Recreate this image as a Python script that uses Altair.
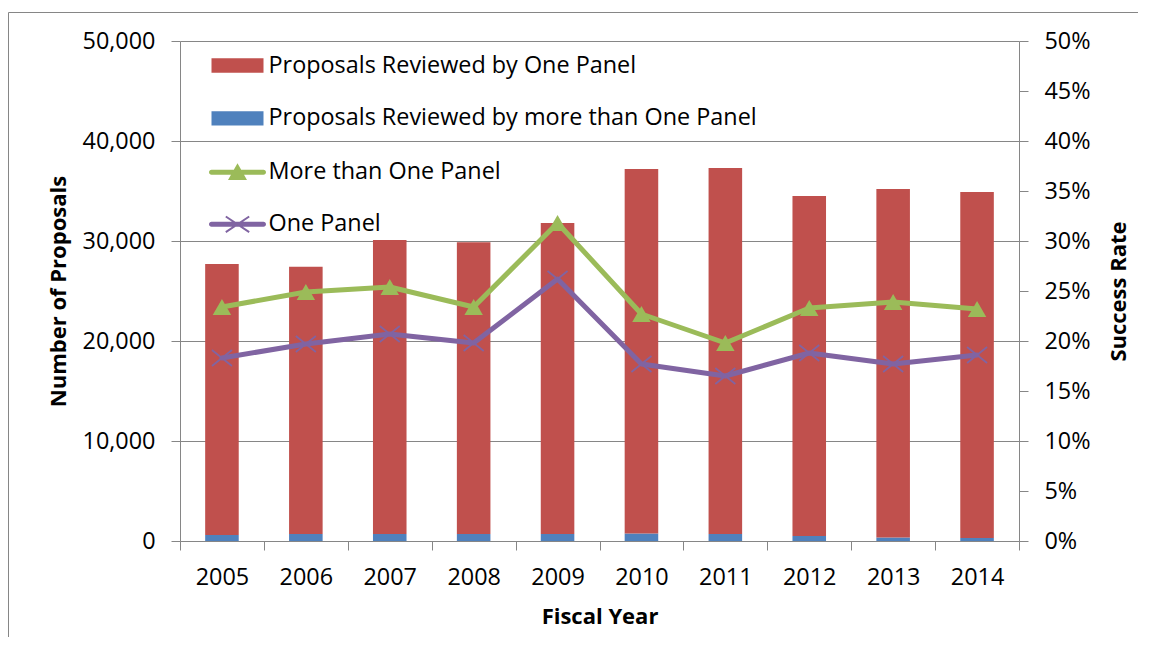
import altair as alt
import pandas as pd

# ---------------- data ----------------
years = ["2005", "2006", "2007", "2008", "2009", "2010", "2011", "2012", "2013", "2014"]
one_panel_count = [27100, 26730, 29400, 29170, 31100, 36450, 36600, 34000, 34850, 34600]
multi_panel_count = [600, 700, 700, 700, 700, 750, 700, 500, 350, 300]
rate_multi_panel = [23.4, 24.9, 25.4, 23.4, 31.8, 22.7, 19.8, 23.3, 23.9, 23.2]
rate_one_panel = [18.3, 19.7, 20.7, 19.8, 26.2, 17.7, 16.5, 18.8, 17.7, 18.6]
left_ticks = [0, 10000, 20000, 30000, 40000, 50000]
right_ticks = [0, 5, 10, 15, 20, 25, 30, 35, 40, 45, 50]

bar_names = ["Proposals Reviewed by One Panel", "Proposals Reviewed by more than One Panel"]
line_names = ["More than One Panel", "One Panel"]

RED, BLUE, GREEN, PURPLE = "#C0504D", "#4F81BD", "#9BBB59", "#8064A2"
GRAY = "#868686"
FONT = "Open Sans"

bar_rows = []
for i, y in enumerate(years):
    bar_rows.append({"year": y, "series": bar_names[1], "value": multi_panel_count[i], "ord": 0})
    bar_rows.append({"year": y, "series": bar_names[0], "value": one_panel_count[i], "ord": 1})
bar_df = pd.DataFrame(bar_rows)

line_rows = []
for i, y in enumerate(years):
    line_rows.append({"year": y, "series": line_names[0], "rate": rate_multi_panel[i]})
    line_rows.append({"year": y, "series": line_names[1], "rate": rate_one_panel[i]})
line_df = pd.DataFrame(line_rows)

# ---------------- legend symbol paths (unit = 26 px) ----------------
RECT_PATH = "M-1,-0.275L1,-0.275L1,0.275L-1,0.275Z"
LINE_PART = ("M-1,-0.096L1,-0.096A0.096,0.096 0 0 1 1,0.096"
             "L-1,0.096A0.096,0.096 0 0 1 -1,-0.096Z")
TRI_PATH = LINE_PART + "M0,-0.346L0.365,0.296L-0.365,0.296Z"
X_PATH = (LINE_PART
          + "M-0.429,-0.332L0.471,0.268L0.429,0.332L-0.471,-0.268Z"
          + "M-0.471,0.268L0.429,-0.332L0.471,-0.268L-0.429,0.332Z")
X_MARK = "M-1.25,-1L1.25,1M-1.25,1L1.25,-1"

x_enc = alt.X(
    "year:O",
    title="Fiscal Year",
    sort=years,
    scale=alt.Scale(paddingInner=0, paddingOuter=0),
    axis=alt.Axis(labelAngle=0, tickBand="extent", tickSize=9, labelPadding=34,
                  labelBaseline="alphabetic", titleX=419.5, titleY=82,
                  titleBaseline="alphabetic"),
)

bars = alt.Chart(bar_df).mark_bar(width=alt.RelativeBandSize(0.4)).encode(
    x=x_enc,
    y=alt.Y("value:Q", stack="zero", title="Number of Proposals",
            scale=alt.Scale(domain=[0, 50000], nice=False),
            axis=alt.Axis(values=left_ticks, format=",d", grid=True, gridColor=GRAY,
                          gridWidth=1, tickSize=9, labelPadding=16, titleX=-115,
                          titleY=250, titleAngle=270, titleBaseline="alphabetic")),
    color=alt.Color("series:N",
                    scale=alt.Scale(domain=bar_names, range=[RED, BLUE]),
                    legend=None),
    order=alt.Order("ord:Q"),
)

y_rate = alt.Y("rate:Q", title="Success Rate",
               scale=alt.Scale(domain=[0, 50], nice=False),
               axis=alt.Axis(orient="right", values=right_ticks,
                             labelExpr="datum.value + '%'", grid=False, tickSize=9,
                             labelPadding=16, titleX=106, titleY=250, titleAngle=270,
                             titleBaseline="alphabetic"))

lines = alt.Chart(line_df).mark_line(strokeWidth=5, strokeJoin="round", strokeCap="round").encode(
    x=x_enc,
    y=y_rate,
    stroke=alt.Stroke("series:N",
                      scale=alt.Scale(domain=line_names, range=[GREEN, PURPLE]),
                      legend=None),
)

tri = alt.Chart(line_df).transform_filter(
    alt.datum.series == line_names[0]
).mark_point(shape="triangle-up", size=340, filled=True, color=GREEN, opacity=1).encode(
    x=x_enc, y=y_rate)

xm = alt.Chart(line_df).transform_filter(
    alt.datum.series == line_names[1]
).mark_point(shape=X_MARK, size=256, filled=False, color=PURPLE, strokeWidth=1.75,
             opacity=1).encode(x=x_enc, y=y_rate)

line_layer = alt.layer(lines, tri, xm)


def legend_only(name, color, path, ypos):
    return alt.Chart(alt.Data(values=[{"s": name}])).mark_point(
        size=0, filled=True, opacity=1, strokeWidth=0
    ).encode(
        fill=alt.Fill("s:N", scale=alt.Scale(domain=[name], range=[color]),
                      legend=alt.Legend(title=None, orient="none", legendX=31.5, legendY=ypos,
                                        symbolType=path, symbolSize=2704,
                                        symbolStrokeWidth=0, symbolOpacity=1,
                                        labelFont=FONT, labelFontSize=23.4,
                                        labelColor="black", labelOffset=5,
                                        labelLimit=1000, padding=0))
    )


leg1 = legend_only(bar_names[0], RED, RECT_PATH, -1.5)
leg2 = legend_only(bar_names[1], BLUE, RECT_PATH, 51.3)
leg3 = legend_only(line_names[0], GREEN, TRI_PATH, 105.3)
leg4 = legend_only(line_names[1], PURPLE, X_PATH, 157.3)

# chart-area frame: only the left and top edges fall inside the picture
frame_left = alt.Chart(alt.Data(values=[{"k": 1}])).mark_rule(
    stroke=GRAY, strokeWidth=1
).encode(x=alt.value(-171.5), y=alt.value(-28.5), y2=alt.value(900))
frame_top = alt.Chart(alt.Data(values=[{"k": 1}])).mark_rule(
    stroke=GRAY, strokeWidth=1
).encode(x=alt.value(-171.5), x2=alt.value(1300), y=alt.value(-28.5))

chart = alt.layer(frame_left, frame_top, bars, line_layer, leg1, leg2, leg3, leg4).resolve_scale(
    y="independent", fill="independent"
).properties(
    width=839, height=500,
    autosize=alt.AutoSizeParams(type="none"),
    padding={"left": 172, "top": 33, "right": 119, "bottom": 96},
).configure_axis(
    labelFont=FONT, labelFontSize=23.4, labelColor="black",
    titleFont=FONT, titleFontSize=22, titleFontWeight="bold", titleColor="black",
    domainColor=GRAY, tickColor=GRAY, domainWidth=1, tickWidth=1,
).configure_view(stroke="transparent")

chart.save("out.html", embed_options={"renderer": "svg", "actions": False})
